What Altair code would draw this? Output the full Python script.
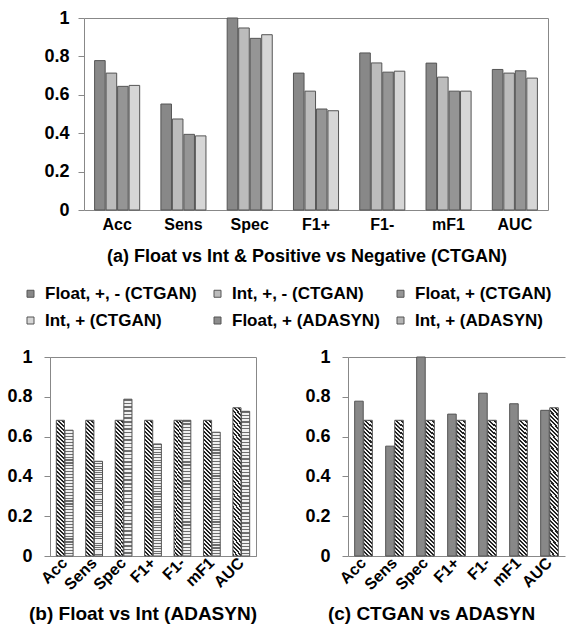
import altair as alt
import pandas as pd

metrics = ["Acc", "Sens", "Spec", "F1+", "F1-", "mF1", "AUC"]
all_series = ["Float, +, - (CTGAN)", "Int, +, - (CTGAN)", "Float, + (CTGAN)",
              "Int, + (CTGAN)", "Float, + (ADASYN)", "Int, + (ADASYN)"]

float_pm_ctgan = [0.778, 0.552, 1.000, 0.713, 0.818, 0.765, 0.732]
int_pm_ctgan = [0.713, 0.474, 0.948, 0.619, 0.766, 0.692, 0.713]
float_p_ctgan = [0.644, 0.394, 0.894, 0.526, 0.718, 0.619, 0.725]
int_p_ctgan = [0.649, 0.386, 0.913, 0.517, 0.723, 0.619, 0.687]
float_p_adasyn = [0.682, 0.682, 0.682, 0.682, 0.682, 0.682, 0.745]
int_p_adasyn = [0.632, 0.476, 0.788, 0.563, 0.682, 0.622, 0.727]

values = {
    all_series[0]: float_pm_ctgan,
    all_series[1]: int_pm_ctgan,
    all_series[2]: float_p_ctgan,
    all_series[3]: int_p_ctgan,
    all_series[4]: float_p_adasyn,
    all_series[5]: int_p_adasyn,
}


def long_df(series_names):
    rows = []
    for s in series_names:
        for m, v in zip(metrics, values[s]):
            rows.append({"metric": m, "series": s, "value": v})
    return pd.DataFrame(rows)


FONT = "Liberation Sans"
STROKE = "#555555"
FRAME = "#888888"


def diag_stripes(n, a, dark, light):
    k = (a + 1) / (a * a + 1)
    stops = []
    for i in range(n):
        o0, o1, o2 = i / n, (i + 0.5) / n, (i + 1) / n
        stops += [{"offset": o0, "color": dark}, {"offset": o1, "color": dark},
                  {"offset": o1, "color": light}, {"offset": min(o2, 1.0), "color": light}]
    return {"gradient": "linear", "x1": 0, "y1": 1, "x2": a * k, "y2": 1 - k, "stops": stops}


def horiz_stripes(n, frac, dark, light):
    stops = []
    for i in range(n):
        o0, o1, o2 = i / n, (i + frac) / n, (i + 1) / n
        stops += [{"offset": o0, "color": dark}, {"offset": o1, "color": dark},
                  {"offset": o1, "color": light}, {"offset": min(o2, 1.0), "color": light}]
    return {"gradient": "linear", "x1": 0, "y1": 0, "x2": 0, "y2": 1, "stops": stops}


fill_map = {
    all_series[0]: "#888888",
    all_series[1]: "#bcbcbc",
    all_series[2]: "#959595",
    all_series[3]: "#d6d6d6",
    all_series[4]: diag_stripes(36, 0.062, "#222222", "#f4f4f4"),
    all_series[5]: horiz_stripes(43, 0.4, "#6e6e6e", "#f0f0f0"),
}
legend_colors = ["#888888", "#bcbcbc", "#959595", "#d6d6d6", "#8c8c8c", "#b4b4b4"]

Y_TICKS = [0, 0.2, 0.4, 0.6, 0.8, 1]
BLANK_X = alt.Axis(orient="bottom", labels=False, ticks=False, domain=False)
BLANK_Y = alt.Axis(orient="left", labels=False, ticks=False, domain=False)
Y_SCALE = alt.Scale(domain=[0, 1], nice=False, zero=True)


def panel(series, width, height, x_scale, off_pad, x_axis, y_axis, title,
          top_frame=False, right_frame=False, view_stroke=FRAME):
    df = long_df(series)
    layers = []
    for i, s in enumerate(series):
        xa = (x_axis if i == 0 else BLANK_X) if top_frame else x_axis
        ya = (y_axis if i == 0 else BLANK_Y) if right_frame else y_axis
        layers.append(
            alt.Chart(df)
            .transform_filter(alt.FieldEqualPredicate(field="series", equal=s))
            .mark_bar(fill=fill_map[s], stroke=STROKE, strokeWidth=1)
            .encode(
                x=alt.X("metric:N", sort=metrics, title=None, scale=x_scale, axis=xa),
                xOffset=alt.XOffset("series:N", scale=alt.Scale(domain=series, paddingInner=off_pad, paddingOuter=0)),
                y=alt.Y("value:Q", title=None, scale=Y_SCALE, axis=ya),
            )
        )
    if top_frame or right_frame:
        fx = (alt.Axis(orient="top", labels=False, ticks=False, domain=True, domainColor=FRAME)
              if top_frame else x_axis)
        fy = (alt.Axis(orient="right", labels=False, ticks=False, domain=True, domainColor=FRAME)
              if right_frame else y_axis)
        layers.append(
            alt.Chart(df)
            .transform_filter(alt.FieldEqualPredicate(field="series", equal=series[0]))
            .mark_bar(opacity=0)
            .encode(
                x=alt.X("metric:N", sort=metrics, title=None, scale=x_scale, axis=fx),
                y=alt.Y("value:Q", title=None, scale=Y_SCALE, axis=fy),
            )
        )
    return alt.layer(*layers).properties(width=width, height=height, title=title,
                                         view=alt.ViewConfig(stroke=view_stroke))


# ---- top panel (a)
top = panel(
    all_series[:4], 498, 192,
    alt.Scale(domain=metrics, paddingInner=0.32, paddingOuter=0.16, range=[34, 498]),
    0.08,
    alt.Axis(orient="bottom", ticks=False, labelAngle=0, labelFontSize=16, labelPadding=6),
    alt.Axis(orient="left", values=Y_TICKS, format=".1~f", tickSize=6, labelPadding=9,
             labelFontSize=18, offset=-34),
    alt.TitleParams("(a) Float vs Int & Positive vs Negative (CTGAN)", orient="bottom",
                    anchor="middle", frame="group", dx=8, offset=16, fontSize=18),
    top_frame=True, right_frame=True, view_stroke="transparent",
)

rot_axis = alt.Axis(orient="bottom", ticks=False, labelAngle=-45, labelAlign="right",
                    labelBaseline="middle", labelFontSize=16, labelPadding=4)


def y_axis_small(extent):
    return alt.Axis(orient="left", values=Y_TICKS, format=".1~f", tickSize=6, labelPadding=12,
                    labelFontSize=18, minExtent=extent, maxExtent=extent)


panel_b = panel(
    [all_series[4], all_series[5]], 206, 199,
    alt.Scale(domain=metrics, paddingInner=0.43, paddingOuter=0.215),
    0.06, rot_axis, y_axis_small(44),
    alt.TitleParams("(b) Float vs Int (ADASYN)", orient="bottom", anchor="middle",
                    frame="group", dx=-10, offset=12, fontSize=19),
)
panel_c = panel(
    [all_series[0], all_series[4]], 217, 199,
    alt.Scale(domain=metrics, paddingInner=0.43, paddingOuter=0.215),
    0.06, rot_axis, y_axis_small(45),
    alt.TitleParams("(c) CTGAN vs ADASYN", orient="bottom", anchor="middle",
                    frame="group", dx=-25, offset=12, fontSize=19),
    top_frame=True, view_stroke="transparent",
)

legend_chart = (
    alt.Chart(pd.DataFrame({"series": all_series}))
    .transform_filter("false")
    .mark_square(stroke=STROKE, strokeWidth=1)
    .encode(color=alt.Color(
        "series:N",
        scale=alt.Scale(domain=all_series, range=legend_colors),
        legend=alt.Legend(title=None, orient="none", legendX=-28, legendY=0,
                          direction="horizontal", columns=3, gridAlign="each",
                          symbolType="square", symbolSize=49, labelFontSize=17,
                          labelFont=FONT, labelFontWeight="bold", labelColor="black",
                          columnPadding=12, rowPadding=9, labelOffset=6, padding=0,
                          labelLimit=400, symbolStrokeColor=STROKE,
                          symbolStrokeWidth=1, symbolOpacity=1),
    ))
    .properties(width=1, height=1, view=alt.ViewConfig(stroke="transparent"))
)

bottom = alt.hconcat(panel_b, panel_c, spacing=44).resolve_scale(xOffset="independent")

chart = (
    alt.vconcat(top, legend_chart, bottom, spacing=17)
    .resolve_scale(xOffset="independent", color="independent")
    .properties(padding={"left": 5, "top": 8, "right": 0, "bottom": 0})
    .configure_axis(domainColor=FRAME, tickColor=FRAME, labelFont=FONT,
                    labelFontWeight="bold", labelColor="black", grid=False)
    .configure_view(stroke=FRAME, strokeWidth=1)
    .configure_title(font=FONT, fontWeight="bold", color="black")
)

chart.save("out.html", embed_options={"renderer": "svg", "actions": False})
